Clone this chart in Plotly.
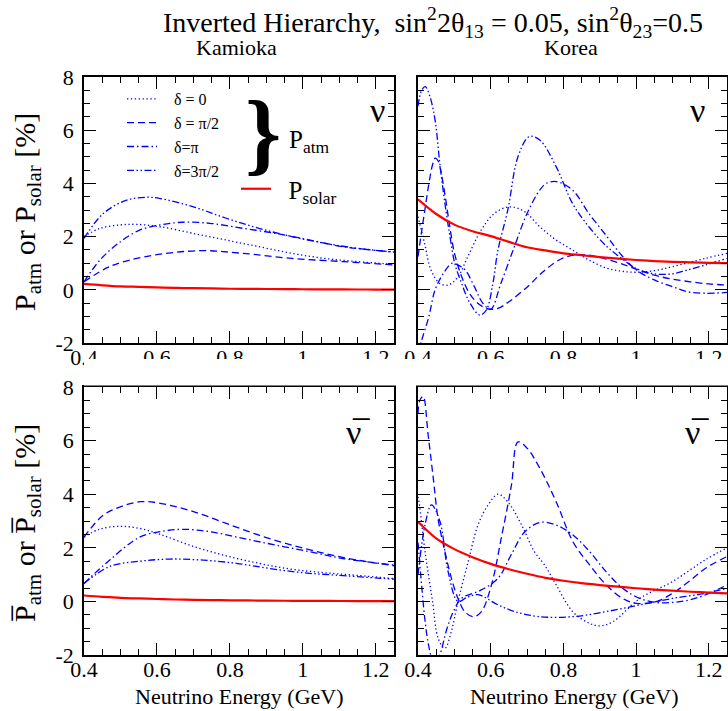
import plotly.graph_objects as go

# ---------------- data ----------------
# Kamioka, neutrino
kn_x_d0   = [0.40, 0.444, 0.50, 0.545, 0.609, 0.70, 0.79, 0.88, 0.97, 1.06, 1.15, 1.25]
kn_y_d0   = [2.00, 2.31, 2.44, 2.46, 2.37, 2.12, 1.87, 1.62, 1.37, 1.18, 1.06, 0.96]
kn_x_d90  = [0.40, 0.47, 0.57, 0.717, 0.836, 0.97, 1.11, 1.25]
kn_y_d90  = [0.30, 0.87, 1.25, 1.47, 1.37, 1.18, 1.06, 0.93]
kn_x_d180 = [0.40, 0.444, 0.50, 0.554, 0.609, 0.67, 0.745, 0.836, 0.926, 1.02, 1.11, 1.25]
kn_y_d180 = [0.30, 1.12, 1.81, 2.25, 2.44, 2.54, 2.50, 2.31, 2.12, 1.87, 1.62, 1.42]
kn_x_d270 = [0.40, 0.453, 0.517, 0.572, 0.609, 0.70, 0.79, 0.88, 0.97, 1.06, 1.15, 1.25]
kn_y_d270 = [1.93, 2.87, 3.37, 3.48, 3.43, 3.12, 2.69, 2.31, 2.00, 1.75, 1.56, 1.42]

# Korea, neutrino
ko_x_d0   = [0.40, 0.418, 0.436, 0.46, 0.483, 0.51, 0.537, 0.574, 0.61, 0.652, 0.693, 0.735,
             0.78, 0.825, 0.87, 0.92, 0.96, 1.00, 1.05, 1.10, 1.19, 1.25]
ko_y_d0   = [2.75, 1.75, 0.74, 0.24, 0.18, 0.49, 1.25, 2.25, 2.87, 3.12, 2.94, 2.37,
             1.87, 1.50, 1.12, 0.81, 0.70, 0.66, 0.72, 0.87, 1.18, 1.37]
ko_x_d90  = [0.40, 0.41, 0.42, 0.43, 0.44, 0.447, 0.455, 0.465, 0.475, 0.485, 0.50, 0.52, 0.54,
             0.56, 0.58, 0.60, 0.62, 0.65, 0.70, 0.75, 0.80, 0.85, 0.90, 0.95, 1.00, 1.05,
             1.10, 1.15, 1.20, 1.25]
ko_y_d90  = [1.25, 2.2, 3.1, 4.0, 4.7, 4.95, 4.85, 4.3, 3.5, 2.6, 1.4, 0.5, -0.1,
             -0.45, -0.65, -0.73, -0.70, -0.45, 0.10, 0.75, 1.20, 1.32, 1.22, 1.02, 0.78, 0.55,
             0.40, 0.30, 0.22, 0.18]
ko_x_d180 = [0.40, 0.41, 0.43, 0.447, 0.47, 0.494, 0.51, 0.53, 0.555, 0.578, 0.60, 0.628,
             0.665, 0.70, 0.735, 0.753, 0.78, 0.825, 0.87, 0.92, 0.96, 1.00, 1.05, 1.10,
             1.14, 1.19, 1.25]
ko_y_d180 = [-2.4, -1.9, -1.0, 0.0, 0.62, 1.0, 0.93, 0.74, 0.12, -0.5, -0.73, 0.24,
             1.62, 2.87, 3.75, 4.0, 4.07, 3.75, 2.87, 2.0, 1.3, 0.75, 0.37, 0.12,
             -0.07, -0.13, -0.10]
ko_x_d270 = [0.40, 0.41, 0.42, 0.432, 0.447, 0.46, 0.474, 0.488, 0.501, 0.52, 0.543, 0.57,
             0.588, 0.606, 0.62, 0.647, 0.675, 0.706, 0.735, 0.78, 0.825, 0.87, 0.92, 0.96,
             1.00, 1.05, 1.10, 1.14, 1.19, 1.25]
ko_y_d270 = [6.9, 7.5, 7.64, 7.3, 6.38, 4.75, 3.25, 2.0, 1.0, 0.24, -0.5, -0.95,
             -0.76, 0.24, 1.5, 3.0, 5.0, 5.76, 5.63, 4.63, 3.25, 2.37, 1.62, 1.18,
             0.80, 0.60, 0.60, 0.74, 0.93, 1.18]

# Kamioka, antineutrino
kb_x_d0   = [0.40, 0.444, 0.50, 0.554, 0.609, 0.70, 0.79, 0.88, 0.97, 1.06, 1.15, 1.25]
kb_y_d0   = [2.40, 2.70, 2.80, 2.72, 2.50, 2.05, 1.70, 1.42, 1.20, 1.07, 0.97, 0.85]
kb_x_d90  = [0.40, 0.453, 0.50, 0.554, 0.609, 0.70, 0.79, 0.88, 0.97, 1.06, 1.15, 1.25]
kb_y_d90  = [2.40, 3.22, 3.53, 3.72, 3.66, 3.35, 2.91, 2.47, 2.10, 1.79, 1.54, 1.33]
kb_x_d180 = [0.40, 0.47, 0.554, 0.609, 0.67, 0.745, 0.836, 0.926, 1.02, 1.11, 1.25]
kb_y_d180 = [0.67, 1.54, 2.41, 2.60, 2.69, 2.60, 2.35, 2.10, 1.85, 1.60, 1.36]
kb_x_d270 = [0.40, 0.47, 0.554, 0.636, 0.727, 0.818, 0.908, 1.00, 1.09, 1.25]
kb_y_d270 = [0.67, 1.30, 1.50, 1.58, 1.54, 1.42, 1.23, 1.07, 0.98, 0.83]

# Korea, antineutrino
kob_x_d0   = [0.40, 0.403, 0.42, 0.44, 0.456, 0.474, 0.492, 0.51, 0.538, 0.565, 0.593, 0.62,
              0.648, 0.685, 0.72, 0.748, 0.78, 0.826, 0.872, 0.90, 0.936, 1.01, 1.10, 1.19, 1.25]
kob_y_d0   = [3.9, 3.7, 1.8, 0.0, -1.4, -1.75, -1.1, 0.0, 1.48, 2.85, 3.6, 4.0,
              3.7, 2.85, 1.86, 1.36, 0.62, -0.39, -0.82, -0.91, -0.76, 0.11, 0.74, 1.55, 2.0]
kob_x_d90  = [0.40, 0.405, 0.414, 0.428, 0.442, 0.455, 0.474, 0.492, 0.51, 0.529, 0.552, 0.574,
              0.602, 0.629, 0.657, 0.675, 0.70, 0.735, 0.78, 0.826, 0.872, 0.918, 0.963, 1.00,
              1.055, 1.10, 1.145, 1.19, 1.25]
kob_y_d90  = [7.0, 7.5, 7.65, 6.2, 4.6, 3.1, 1.86, 0.86, 0.11, -0.39, -0.57, -0.39,
              0.61, 2.36, 4.34, 5.95, 5.72, 4.97, 3.72, 2.23, 1.36, 0.61, 0.11, -0.07,
              -0.01, 0.30, 0.74, 1.23, 1.67]
kob_x_d180 = [0.40, 0.41, 0.42, 0.43, 0.445, 0.46, 0.48, 0.50, 0.52, 0.57, 0.62, 0.656, 0.694,
              0.737, 0.78, 0.826, 0.872, 0.918, 0.963, 1.01, 1.055, 1.10, 1.145, 1.19, 1.25]
kob_y_d180 = [2.2, 0.6, -0.8, -1.7, -2.4, -2.0, -1.0, -0.3, 0.12, 0.4, 0.86, 1.73, 2.6,
              2.95, 2.85, 2.48, 1.86, 1.10, 0.49, 0.11, -0.04, -0.04, 0.05, 0.24, 0.61]
kob_x_d270 = [0.40, 0.42, 0.437, 0.46, 0.483, 0.51, 0.535, 0.565, 0.62, 0.666, 0.734, 0.826,
              0.918, 1.01, 1.10, 1.19, 1.25]
kob_y_d270 = [1.0, 2.9, 3.6, 3.0, 1.1, 0.0, 0.15, 0.25, -0.13, -0.38, -0.57, -0.57,
              -0.38, -0.13, 0.11, 0.30, 0.49]

# P_solar
sol_x      = [0.40, 0.45, 0.50, 0.55, 0.60, 0.65, 0.70, 0.75, 0.80, 0.85, 0.90, 0.95,
              1.00, 1.05, 1.10, 1.15, 1.20, 1.25]
sol_kam    = [0.22, 0.17, 0.13, 0.11, 0.09, 0.07, 0.06, 0.05, 0.04, 0.035, 0.03, 0.025,
              0.02, 0.018, 0.015, 0.012, 0.01, 0.01]
sol_kor_nu = [3.40, 2.85, 2.45, 2.20, 2.02, 1.80, 1.60, 1.48, 1.37, 1.30, 1.23, 1.17,
              1.12, 1.08, 1.05, 1.03, 1.01, 1.00]
sol_kor_nb = [2.97, 2.35, 1.95, 1.65, 1.40, 1.20, 1.03, 0.88, 0.77, 0.68, 0.61, 0.55,
              0.49, 0.44, 0.40, 0.36, 0.33, 0.30]

legend_names = ["δ = 0", "δ = π/2", "δ=π", "δ=3π/2"]
x_tickvals = [0.4, 0.6, 0.8, 1.0, 1.2]
x_ticktext = ["0.4", "0.6", "0.8", "1", "1.2"]
y_tickvals = [-2, 0, 2, 4, 6, 8]
y_ticktext = ["-2", "0", "2", "4", "6", "8"]

# ---------------- styling ----------------
W, H = 728, 711
FONT = "Liberation Serif"
BLUE = "#0000ff"
RED = "#ff0000"
NB = "\u00a0"
dashes = ["1.3px,2.6px", "7px,4px", "7px,3px,1.5px,3px", "7px,2.5px,1.5px,2.5px,1.5px,2.5px"]

fig = go.Figure()

panels = [
    ("x", "y", [(kn_x_d0, kn_y_d0), (kn_x_d90, kn_y_d90), (kn_x_d180, kn_y_d180), (kn_x_d270, kn_y_d270)], sol_kam),
    ("x2", "y2", [(ko_x_d0, ko_y_d0), (ko_x_d90, ko_y_d90), (ko_x_d180, ko_y_d180), (ko_x_d270, ko_y_d270)], sol_kor_nu),
    ("x3", "y3", [(kb_x_d0, kb_y_d0), (kb_x_d90, kb_y_d90), (kb_x_d180, kb_y_d180), (kb_x_d270, kb_y_d270)], sol_kam),
    ("x4", "y4", [(kob_x_d0, kob_y_d0), (kob_x_d90, kob_y_d90), (kob_x_d180, kob_y_d180), (kob_x_d270, kob_y_d270)], sol_kor_nb),
]

for pi, (xa, ya, curves, sol) in enumerate(panels):
    for ci, (cx, cy) in enumerate(curves):
        fig.add_trace(go.Scatter(
            x=cx, y=cy, xaxis=xa, yaxis=ya, mode="lines",
            line=dict(color=BLUE, width=1.3, dash=dashes[ci], shape="spline", smoothing=1.0),
            name=NB * 3 + legend_names[ci], showlegend=(pi == 0), legend="legend"))
    fig.add_trace(go.Scatter(
        x=sol_x, y=sol, xaxis=xa, yaxis=ya, mode="lines",
        line=dict(color=RED, width=2.2, shape="spline"),
        name=NB * 2 + "P<sub>solar</sub>", showlegend=(pi == 0), legend="legend2"))

xl = [84 / W, 394 / W]
xr = [418 / W, 727 / W]
yt = [1 - 343 / H, 1 - 77 / H]
yb = [1 - 655 / H, 1 - 387 / H]

def xaxis_def(domain, anchor):
    return dict(domain=domain, anchor=anchor, range=[0.4, 1.25], tickmode="array",
                tickvals=x_tickvals, ticktext=x_ticktext, ticks="inside", ticklen=12,
                tickwidth=1.3, tickcolor="black", showline=True, linecolor="black",
                linewidth=1.5, mirror="ticks", showgrid=False, zeroline=False,
                automargin=False, ticklabelstandoff=-6,
                tickfont=dict(family=FONT, size=22, color="black"),
                minor=dict(tickmode="linear", tick0=0.4, dtick=0.05, ticks="inside",
                           ticklen=6, tickwidth=1, tickcolor="black", showgrid=False))

def yaxis_def(domain, anchor, labels):
    return dict(domain=domain, anchor=anchor, range=[-2, 8], tickmode="array",
                tickvals=y_tickvals, ticktext=y_ticktext, ticks="inside", ticklen=12,
                tickwidth=1.3, tickcolor="black", showline=True, linecolor="black",
                linewidth=1.5, mirror="ticks", showgrid=False, zeroline=False,
                showticklabels=labels, automargin=False, ticklabelstandoff=4,
                tickfont=dict(family=FONT, size=22, color="black"),
                minor=dict(tickmode="linear", tick0=-2, dtick=0.5, ticks="inside",
                           ticklen=6, tickwidth=1, tickcolor="black", showgrid=False))

ann = []
def add_text(text, px, py, size, xanchor="center", yanchor="middle", angle=0):
    ann.append(dict(text=text, x=px / W, y=1 - py / H, xref="paper", yref="paper",
                    xanchor=xanchor, yanchor=yanchor, showarrow=False, textangle=angle,
                    font=dict(family=FONT, size=size, color="black")))

add_text("Inverted Hierarchy,  sin<sup>2</sup>2θ<sub>13</sub> = 0.05, sin<sup>2</sup>θ<sub>23</sub>=0.5", 433, 22, 28)
add_text("Kamioka", 236, 48, 22)
add_text("Korea", 571, 48, 22)
add_text("P<sub>atm</sub> or P<sub>solar</sub> [%]", 27, 212, 30, angle=-90)
add_text("P\u0305<sub>atm</sub> or P\u0305<sub>solar</sub> [%]", 27, 523, 30, angle=-90)
add_text("Neutrino Energy (GeV)", 239, 696, 22)
add_text("Neutrino Energy (GeV)", 574, 696, 22)
add_text("ν", 377, 110, 34)
add_text("ν", 697, 110, 34)
add_text("ν\u0305", 358, 432, 34)
add_text("ν\u0305", 697, 432, 34)
add_text("<b>}</b>", 263, 132, 92)
add_text("P<sub>atm</sub>", 287, 142, 25, xanchor="left")

fig.update_layout(
    template="none",
    width=W, height=H, margin=dict(l=0, r=0, t=0, b=0, autoexpand=False),
    paper_bgcolor="white", plot_bgcolor="white",
    font=dict(family=FONT, color="black"),
    xaxis=xaxis_def(xl, "y"), yaxis=yaxis_def(yt, "x", True),
    xaxis2=xaxis_def(xr, "y2"), yaxis2=yaxis_def(yt, "x2", False),
    xaxis3=xaxis_def(xl, "y3"), yaxis3=yaxis_def(yb, "x3", True),
    xaxis4=xaxis_def(xr, "y4"), yaxis4=yaxis_def(yb, "x4", False),
    annotations=ann,
    legend=dict(x=122 / W, y=1 - 82 / H, xanchor="left", yanchor="top",
                bgcolor="rgba(0,0,0,0)", tracegroupgap=0,
                font=dict(family=FONT, size=16, color="black")),
    legend2=dict(x=236 / W, y=1 - 189 / H, xanchor="left", yanchor="middle",
                 bgcolor="rgba(0,0,0,0)",
                 font=dict(family=FONT, size=25, color="black")),
    shapes=[dict(type="rect", xref="paper", yref="paper", x0=84 / W, x1=1.0,
                 y0=1 - 385.5 / H, y1=1 - 359 / H, fillcolor="white",
                 line=dict(width=0), layer="above")],
)

fig.write_html("out.html")
